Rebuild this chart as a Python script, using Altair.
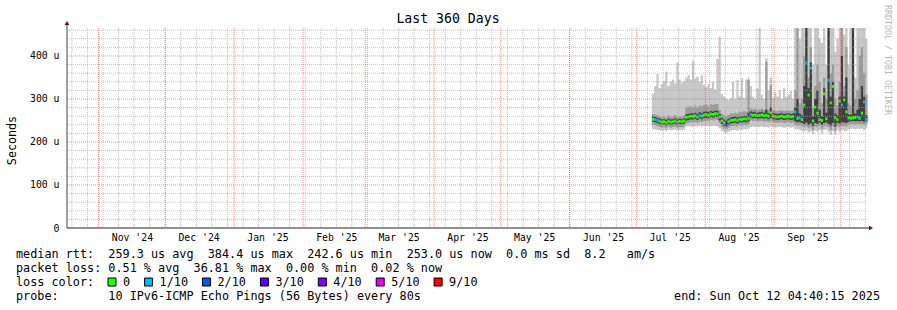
import altair as alt
import pandas as pd

# ------------------------------------------------------------------ data
DAY0 = "2025-07-08"          # first daily bin with measurements
DOMAIN = ["2024-10-17T19:00:00", "2025-10-12T19:00:00"]   # 360 days shown

# median rtt (us) per day
med = [253, 252, 250, 248, 246, 247, 245, 248, 246, 247, 249, 246, 248, 247, 249,
       257, 258, 260, 259, 261, 258, 262, 260, 263, 264, 262, 265, 264, 266, 265,
       258, 249, 245, 243, 247, 250, 251, 252, 250, 253, 252, 254, 253, 255,
       264, 262, 263, 261, 262, 263, 261, 262, 260, 268, 260, 259, 258, 259, 260, 258, 259, 260, 258, 259,
       270, 255, 256, 252, 286, 384, 309, 372, 249, 281, 267, 252, 250, 312, 254, 344, 291, 329, 256, 252,
       295, 286, 298, 270, 256, 255, 256, 257, 258, 255, 267, 293, 253]
# lost pings out of 10 per day
loss = [0, 1, 1, 0, 0, 0, 0, 0, 0, 0, 0, 0, 0, 0, 0,
        0, 0, 0, 0, 0, 0, 1, 0, 0, 0, 0, 0, 0, 0, 0,
        0, 0, 0, 3, 0, 0, 0, 0, 0, 0, 0, 0, 0, 0,
        1, 0, 0, 0, 0, 0, 0, 0, 0, 0, 0, 0, 0, 0, 0, 0, 0, 0, 0, 0,
        1, 0, 1, 0, 0, 1, 0, 1, 0, 0, 0, 0, 0, 0, 0, 1, 0, 0, 0, 0,
        0, 1, 0, 0, 0, 0, 0, 0, 1, 0, 0, 1, 1]
# smoke: fastest ping (light band bottom)
lo = [230, 229, 228, 227, 226, 228, 225, 229, 227, 228, 229, 226, 228, 227, 229,
      236, 237, 236, 235, 237, 236, 238, 236, 237, 238, 236, 237, 238, 237, 236,
      232, 226, 223, 221, 224, 226, 227, 228, 226, 229, 228, 230, 229, 231,
      235, 236, 235, 234, 235, 236, 234, 235, 233, 236, 234, 233, 234, 235, 234, 233, 234, 235, 233, 234,
      229, 230, 228, 226, 224, 227, 222, 225, 218, 226, 224, 228, 220, 227, 229, 224, 217, 226, 216, 227,
      224, 228, 226, 225, 229, 230, 231, 229, 231, 230, 231, 228, 232]
# smoke: middle band bottom
mlo = [240, 239, 237, 235, 233, 235, 232, 236, 233, 235, 236, 233, 235, 234, 236,
       243, 244, 246, 245, 247, 244, 248, 246, 249, 250, 248, 251, 250, 252, 251,
       244, 235, 231, 229, 233, 236, 237, 238, 236, 239, 238, 240, 239, 241,
       250, 248, 249, 247, 248, 249, 247, 248, 246, 249, 246, 245, 244, 245, 246, 244, 245, 246, 244, 245,
       240, 238, 239, 236, 234, 237, 232, 235, 228, 236, 234, 238, 231, 236, 238, 234, 228, 236, 226, 237,
       235, 238, 237, 236, 240, 241, 242, 240, 242, 241, 242, 239, 242]
# smoke: dark band bottom
dlo = [247, 246, 244, 242, 240, 241, 239, 242, 240, 241, 243, 240, 242, 241, 243,
       250, 251, 253, 252, 254, 251, 255, 253, 256, 257, 255, 258, 257, 259, 258,
       250, 242, 238, 236, 240, 243, 244, 245, 243, 246, 245, 247, 246, 248,
       257, 255, 256, 254, 255, 256, 254, 255, 253, 256, 253, 252, 251, 252, 253, 251, 252, 253, 251, 252,
       248, 246, 247, 244, 242, 245, 240, 243, 238, 244, 242, 245, 240, 244, 246, 242, 238, 244, 236, 245,
       243, 246, 245, 244, 247, 248, 249, 248, 249, 248, 249, 247, 248]
# smoke: dark band top
dhi = [259, 258, 256, 254, 252, 253, 251, 254, 252, 253, 255, 252, 254, 253, 255,
       264, 265, 267, 266, 268, 265, 269, 267, 270, 271, 269, 272, 271, 273, 272,
       265, 256, 252, 250, 254, 257, 258, 259, 257, 260, 259, 261, 260, 268,
       271, 269, 270, 268, 269, 270, 268, 275, 267, 280, 267, 266, 265, 266, 267, 265, 266, 267, 265, 266,
       280, 300, 266, 262, 330, 465, 325, 385, 260, 300, 320, 275, 260, 325, 268, 465, 305, 340, 266, 262,
       305, 400, 305, 350, 265, 264, 465, 266, 275, 300, 330, 305, 262]
# smoke: middle band top
mhi = [265, 264, 262, 260, 258, 259, 257, 262, 258, 259, 263, 258, 260, 259, 262,
       280, 282, 283, 281, 284, 280, 285, 283, 286, 287, 284, 288, 286, 289, 288,
       275, 266, 262, 260, 263, 266, 267, 268, 266, 270, 269, 272, 270, 344,
       278, 276, 277, 275, 276, 277, 275, 387, 274, 333, 274, 273, 272, 273, 274, 272, 273, 274, 272, 273,
       320, 465, 290, 300, 400, 465, 350, 420, 280, 330, 380, 340, 290, 350, 300, 465, 360, 380, 300, 285,
       340, 465, 330, 420, 290, 285, 465, 300, 320, 400, 420, 360, 310]
# smoke: slowest ping (light band top)
hi = [313, 330, 358, 325, 335, 342, 363, 330, 340, 345, 336, 385, 345, 338, 342,
      350, 355, 345, 390, 348, 352, 340, 355, 332, 328, 335, 325, 340, 322, 393,
      445, 312, 305, 300, 298, 302, 340, 300, 344, 305, 348, 302, 345, 350,
      330, 305, 300, 325, 465, 310, 300, 395, 320, 350, 303, 315, 305, 320, 300, 325, 305, 310, 318, 300,
      465, 465, 440, 465, 465, 465, 465, 465, 380, 465, 465, 440, 430, 465, 380, 465, 465, 465, 410, 440,
      465, 465, 450, 465, 380, 465, 465, 350, 465, 465, 465, 465, 440]

month_starts = ["2024-11-01", "2024-12-01", "2025-01-01", "2025-02-01", "2025-03-01", "2025-04-01",
                "2025-05-01", "2025-06-01", "2025-07-01", "2025-08-01", "2025-09-01", "2025-10-01"]
month_label_days = ["2024-11-16", "2024-12-16", "2025-01-16", "2025-02-16", "2025-03-16", "2025-04-16",
                    "2025-05-16", "2025-06-16", "2025-07-16", "2025-08-16", "2025-09-16"]
week_start = "2024-10-20"
y_labels = [0, 100, 200, 300, 400]
y_max = 465

loss_labels = ["0", "1/10", "2/10", "3/10", "4/10", "5/10", "9/10"]
loss_counts = [0, 1, 2, 3, 4, 5, 9]
loss_colors = ["#26ff00", "#00b8ff", "#0059ff", "#5e00ff", "#7e00ff", "#dd00ff", "#ff0000"]

title_text = "Last 360 Days"
legend_lines = [
    "median rtt:  259.3 us avg  384.4 us max  242.6 us min  253.0 us now  0.0 ms sd  8.2   am/s",
    "packet loss: 0.51 % avg  36.81 % max  0.00 % min  0.02 % now",
    "loss color:",
    "probe:       10 IPv6-ICMP Echo Pings (56 Bytes) every 80s",
]
end_text = "end: Sun Oct 12 04:40:15 2025"
watermark = "RRDTOOL / TOBI OETIKER"

# ------------------------------------------------------------------ helpers
MONO = "DejaVu Sans Mono"
L, T = 67, 28          # plot origin in the page
W, H = 800, 200


def ms(s):
    return int(pd.Timestamp(s, tz="UTC").value // 10**6)


n = len(med)
days = pd.date_range(DAY0, periods=n + 1, freq="D", tz="UTC")
t_ms = [int(d.value // 10**6) for d in days]

band = pd.DataFrame({
    "t": t_ms,
    "lo": lo + [lo[-1]], "hi": hi + [hi[-1]],
    "mlo": mlo + [mlo[-1]], "mhi": mhi + [mhi[-1]],
    "dlo": dlo + [dlo[-1]], "dhi": dhi + [dhi[-1]],
})
mdf = pd.DataFrame({"t": t_ms[:-1], "t2": t_ms[1:], "med": med, "loss": loss})

xscale = alt.Scale(type="utc", domain=[ms(DOMAIN[0]), ms(DOMAIN[1])])
yscale = alt.Scale(domain=[0, y_max], nice=False, zero=True)

xaxis = alt.Axis(values=[ms(d) for d in month_label_days],
                 labelExpr="utcFormat(datum.value, \"%b '%y\")",
                 title="", grid=False, domain=False, ticks=False,
                 labelFont=MONO, labelFontSize=9.8, labelColor="black",
                 labelPadding=4, labelOverlap=False, labelFlush=False)
yaxis = alt.Axis(values=y_labels,
                 labelExpr='datum.value == 0 ? "0\u00a0\u00a0" : datum.value + " u"',
                 title="Seconds", grid=False, domain=False, ticks=False,
                 labelFont=MONO, labelFontSize=9.8, labelColor="black", labelPadding=8,
                 titleFont=MONO, titleFontSize=11.7, titleFontWeight="normal",
                 titleColor="black", titleX=-50, titleY=112)

light = alt.Chart(band).mark_area(interpolate="step-after", color="#c8c8c8").encode(
    x=alt.X("t:T", scale=xscale, axis=xaxis),
    y=alt.Y("lo:Q", scale=yscale, axis=yaxis),
    y2="hi:Q")
midb = alt.Chart(band).mark_area(interpolate="step-after", color="#9c9c9c").encode(
    x="t:T", y="mlo:Q", y2="mhi:Q")
dark = alt.Chart(band).mark_area(interpolate="step-after", color="#404040").encode(
    x="t:T", y="dlo:Q", y2="dhi:Q")
median = alt.Chart(mdf).transform_calculate(
    m0="datum.med - 3.4", m1="datum.med + 3.4"
).mark_rect().encode(
    x="t:T", x2="t2:T",
    y="m0:Q", y2="m1:Q",
    color=alt.Color("loss:O", scale=alt.Scale(domain=loss_counts, range=loss_colors), legend=None))

# grid (drawn on top, like rrdtool)
weeks = pd.date_range(week_start, DOMAIN[1][:10], freq="7D", tz="UTC")
vmin = pd.DataFrame({"t": [int(d.value // 10**6) for d in weeks]})
vmaj = pd.DataFrame({"t": [ms(d) for d in month_starts]})
hmin = pd.DataFrame({"v": [v for v in range(20, y_max, 20) if v % 100]})
hmaj = pd.DataFrame({"v": y_labels[1:]})

g_vmin = alt.Chart(vmin).mark_rule(color="#a8a8a8", strokeDash=[1, 1], opacity=0.7).encode(
    x="t:T", y=alt.value(0), y2=alt.value(H))
g_hmin = alt.Chart(hmin).mark_rule(color="#a8a8a8", strokeDash=[1, 1], opacity=0.7).encode(
    y="v:Q", x=alt.value(0), x2=alt.value(W))
g_vmaj = alt.Chart(vmaj).mark_rule(color="#e03a3a", strokeDash=[1, 1], opacity=0.55).encode(
    x="t:T", y=alt.value(0), y2=alt.value(H))
g_hmaj = alt.Chart(hmaj).mark_rule(color="#e03a3a", strokeDash=[1, 1], opacity=0.55).encode(
    y="v:Q", x=alt.value(0), x2=alt.value(W))

one = pd.DataFrame({"k": [0]})
x_axis_line = alt.Chart(one).mark_rule(color="#222222").encode(
    x=alt.value(0), x2=alt.value(W + 3), y=alt.value(H))
y_axis_line = alt.Chart(one).mark_rule(color="#444444").encode(
    x=alt.value(0), y=alt.value(H), y2=alt.value(-4))
arrow_up = alt.Chart(one).mark_point(shape="triangle-up", filled=True, size=22,
                                     color="#7f0000", opacity=1).encode(
    x=alt.value(0), y=alt.value(-5))
arrow_right = alt.Chart(one).mark_point(shape="triangle-right", filled=True, size=22,
                                        color="#7f0000", opacity=1).encode(
    x=alt.value(W + 4), y=alt.value(H))


def txt(s, x, y, size=11.8, align="left", angle=0, color="black"):
    return alt.Chart(one).mark_text(
        text=s.replace(" ", "\u00a0"), align=align, baseline="middle", font=MONO,
        fontSize=size, angle=angle, color=color
    ).encode(x=alt.value(x - L), y=alt.value(y - T))


texts = [txt(title_text, 448, 19, size=13.2, align="center")]
for k, line in enumerate(legend_lines):
    texts.append(txt(line, 16, 254 + 14 * k))
texts.append(txt(end_text, 880, 296, align="right"))
texts.append(txt(watermark, 887, 60, size=8.3, align="center", angle=90, color="#b8b8b8"))

# loss colour legend
boxes = []
bx = 108.0
for lab, col in zip(loss_labels, loss_colors):
    boxes.append(alt.Chart(one).mark_rect(color=col, stroke="black", strokeWidth=1).encode(
        x=alt.value(bx - L), x2=alt.value(bx + 8 - L),
        y=alt.value(278 - T), y2=alt.value(286 - T)))
    texts.append(txt(lab, bx + 15, 282))
    bx = bx + 15 + len(lab) * 7.1 + 14.5

chart = alt.layer(
    light, midb, dark, median,
    g_vmin, g_hmin, g_vmaj, g_hmaj,
    x_axis_line, y_axis_line, arrow_up, arrow_right,
    *boxes, *texts
).properties(
    width=W, height=H,
    autosize=alt.AutoSizeParams(type="none"),
    padding={"left": L, "top": T, "right": 897 - L - W, "bottom": 310 - T - H},
    background="white",
).configure_view(strokeOpacity=0)

chart.save("out.html", embed_options={"renderer": "svg", "actions": False})
